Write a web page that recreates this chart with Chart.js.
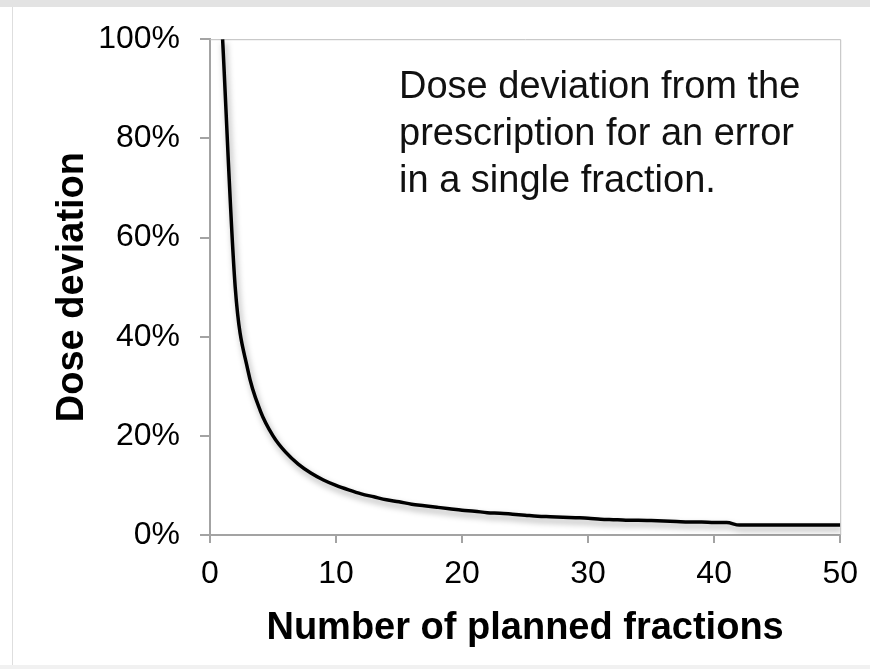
<!DOCTYPE html>
<html>
<head>
<meta charset="utf-8">
<script src="https://cdn.jsdelivr.net/npm/chart.js@4/dist/chart.umd.min.js"></script>
<style>
  html, body { margin: 0; padding: 0; background: #fff; }
  #wrap { position: relative; width: 870px; height: 669px; overflow: hidden; }
  #frameTop { position: absolute; left: 0; top: 0; width: 870px; height: 7px; background: #e3e3e3; }
  #frameLeft { position: absolute; left: 12px; top: 7px; width: 1px; height: 658px; background: #dedede; }
  #frameBottom { position: absolute; left: 0; top: 665px; width: 870px; height: 4px; background: #f1f1f1; }
  canvas { position: absolute; left: 0; top: 0; }
</style>
</head>
<body>
<div id="wrap">
  <div id="frameTop"></div>
  <div id="frameLeft"></div>
  <div id="frameBottom"></div>
  <canvas id="chart_canvas" width="870" height="669"></canvas>
</div>
<script>
// ============================================================
// Data
// ============================================================
var fractions = [1, 2, 3, 4, 5, 6, 7, 8, 9, 10,
                 11, 12, 13, 14, 15, 16, 17, 18, 19, 20,
                 21, 22, 23, 24, 25, 26, 27, 28, 29, 30,
                 31, 32, 33, 34, 35, 36, 37, 38, 39, 40,
                 41, 42, 43, 44, 45, 46, 47, 48, 49, 50];
var doseDeviation = [100, 50, 33.3, 25, 20, 16.7, 14.3, 12.5, 11.1, 10,
                     9.1, 8.3, 7.7, 7.1, 6.7, 6.2, 5.9, 5.6, 5.3, 5,
                     4.8, 4.5, 4.4, 4.2, 4, 3.8, 3.7, 3.6, 3.5, 3.4,
                     3.2, 3.1, 3, 3, 2.9, 2.8, 2.7, 2.6, 2.6, 2.5,
                     2.5, 2, 2, 2, 2, 2, 2, 2, 2, 2];
var xTicks = [0, 10, 20, 30, 40, 50];
var yTicks = [0, 20, 40, 60, 80, 100];
var noteLines = ["Dose deviation from the", "prescription for an error", "in a single fraction."];

var axisGray = "#a3a3a3";

// ============================================================
// Shadow under the curve
// ============================================================
var shadowPlugin = {
	id: "lineShadow",
	beforeDatasetDraw: function (chart) {
		var ctx = chart.ctx;
		ctx.save();
		ctx.shadowColor = "rgba(0,0,0,0.35)";
		ctx.shadowBlur = 6;
		ctx.shadowOffsetX = 2;
		ctx.shadowOffsetY = 4;
	},
	afterDatasetDraw: function (chart) {
		chart.ctx.restore();
	}
};

// ============================================================
// Light box on top / right and the note text
// ============================================================
var boxAndNote = {
	id: "boxAndNote",
	beforeDatasetsDraw: function (chart) {
		var ctx = chart.ctx;
		var a = chart.chartArea;
		ctx.save();
		ctx.strokeStyle = "#bdbdbd";
		ctx.lineWidth = 1;
		ctx.beginPath();
		ctx.moveTo(a.left, a.top + 0.5);
		ctx.lineTo(a.right + 0.5, a.top + 0.5);
		ctx.lineTo(a.right + 0.5, a.bottom);
		ctx.stroke();
		ctx.restore();
	},
	afterDraw: function (chart) {
		var ctx = chart.ctx;
		ctx.save();
		ctx.fillStyle = "#111";
		ctx.font = '38px "Liberation Sans", Arial, sans-serif';
		ctx.textBaseline = "alphabetic";
		ctx.textAlign = "left";
		var base = [98, 145, 192];
		for (var i = 0; i < noteLines.length; i++) {
			ctx.fillText(noteLines[i], 399, base[i]);
		}
		ctx.restore();
	}
};

var points = [];
for (var i = 0; i < fractions.length; i++) {
	points.push({ x: fractions[i], y: doseDeviation[i] });
}

new Chart(document.getElementById("chart_canvas"), {
	type: "line",
	data: {
		datasets: [{
			label: "Dose deviation",
			data: points,
			borderColor: "#000",
			borderWidth: 3.5,
			pointRadius: 0,
			fill: false,
			cubicInterpolationMode: "monotone"
		}]
	},
	options: {
		responsive: false,
		animation: false,
		events: [],
		layout: { padding: { top: 37, right: 24, bottom: 0, left: 0 } },
		plugins: {
			legend: { display: false },
			tooltip: { enabled: false }
		},
		scales: {
			x: {
				type: "linear",
				min: xTicks[0],
				max: xTicks[xTicks.length - 1],
				afterBuildTicks: function (scale) {
					scale.ticks = xTicks.map(function (v) { return { value: v }; });
				},
				afterFit: function (scale) { scale.height = 134; },
				border: { display: true, color: axisGray, width: 2 },
				grid: { drawOnChartArea: false, drawTicks: true, tickLength: 8, color: axisGray, lineWidth: 2 },
				ticks: {
					color: "#000",
					padding: 12,
					font: { family: '"Liberation Sans", Arial, sans-serif', size: 32 }
				},
				title: {
					display: true,
					text: "Number of planned fractions",
					color: "#000",
					padding: { top: 6, bottom: 18 },
					font: { family: '"Liberation Sans", Arial, sans-serif', size: 38, weight: "bold" }
				}
			},
			y: {
				type: "linear",
				min: yTicks[0],
				max: yTicks[yTicks.length - 1],
				afterBuildTicks: function (scale) {
					scale.ticks = yTicks.map(function (v) { return { value: v }; });
				},
				afterFit: function (scale) { scale.width = 210; },
				border: { display: true, color: axisGray, width: 2 },
				grid: { drawOnChartArea: false, drawTicks: true, tickLength: 10, color: axisGray, lineWidth: 2 },
				ticks: {
					color: "#000",
					padding: 20,
					font: { family: '"Liberation Sans", Arial, sans-serif', size: 32 },
					callback: function (v) { return v + "%"; }
				},
				title: {
					display: true,
					text: "Dose deviation",
					color: "#000",
					padding: { top: 50, bottom: 0 },
					font: { family: '"Liberation Sans", Arial, sans-serif', size: 38, weight: "bold" }
				}
			}
		}
	},
	plugins: [shadowPlugin, boxAndNote]
});
</script>
</body>
</html>
